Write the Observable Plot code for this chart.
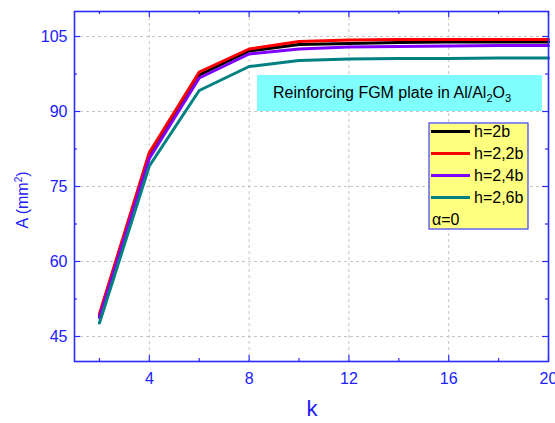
<!DOCTYPE html>
<html>
<head>
<meta charset="utf-8">
<script src="https://cdn.jsdelivr.net/npm/d3@7"></script>
<script src="https://cdn.jsdelivr.net/npm/@observablehq/plot@0.6"></script>
<style>
html,body{margin:0;padding:0;background:#fff;}
svg{font-family:"Liberation Sans",Arial,sans-serif;}
</style>
</head>
<body>
<div id="chart"></div>
<script>
const kValues = [2, 4, 6, 8, 10, 12, 14, 16, 18, 20];
const h2b  = [49.1, 81.4, 97.3, 102.1, 103.4, 103.6, 103.8, 103.9, 103.9, 103.9];
const h22b = [49.5, 81.8, 97.9, 102.5, 104.0, 104.3, 104.4, 104.4, 104.4, 104.4];
const h24b = [48.8, 80.6, 96.7, 101.5, 102.5, 102.9, 103.0, 103.1, 103.2, 103.2];
const h26b = [47.7, 79.1, 94.2, 99.0, 100.2, 100.5, 100.6, 100.6, 100.7, 100.7];
const seriesNames = ["h=2b", "h=2,2b", "h=2,4b", "h=2,6b"];
const seriesColors = ["#000000", "#ff0000", "#8000ff", "#008080"];
const xMajor = [4, 8, 12, 16, 20];
const xMinor = [2, 6, 10, 14, 18];
const yMajor = [45, 60, 75, 90, 105];
const yMinor = [52.5, 67.5, 82.5, 97.5];
const xGrid = [4, 8, 12, 16];

const allSeries = [h2b, h22b, h24b, h26b];
const rows = [];
allSeries.forEach((vals, si) => vals.forEach((v, i) => rows.push({k: kValues[i], A: v, s: seriesNames[si]})));

const W = 555, H = 423, mL = 74, mR = 7, mT = 11, mB = 62;
const plotH = H - mT - mB;
const plotW = W - mL - mR;
const blue = "#2b2bff";
const tickBlue = "#2020ff";

const chart = Plot.plot({
  width: W, height: H,
  marginLeft: mL, marginRight: mR, marginTop: mT, marginBottom: mB,
  x: {domain: [1, 20]},
  y: {domain: [40, 110]},
  color: {domain: seriesNames, range: seriesColors},
  marks: [
    Plot.gridX(xGrid, {stroke: "#c4c4c4", strokeOpacity: 1, strokeDasharray: "3,3"}),
    Plot.gridY(yMajor, {stroke: "#c4c4c4", strokeOpacity: 1, strokeDasharray: "3,3"}),
    ...seriesNames.map(n => Plot.line(rows.filter(r => r.s === n), {x: "k", y: "A", stroke: "s", strokeWidth: 3})),
    Plot.tickX(xMajor, {x: d => d, stroke: blue, strokeWidth: 1.2, insetTop: plotH - 6}),
    Plot.tickX(xMinor, {x: d => d, stroke: blue, strokeWidth: 1.2, insetTop: plotH - 3}),
    Plot.tickX(xMajor, {x: d => d, stroke: blue, strokeWidth: 1.2, insetBottom: plotH - 6}),
    Plot.tickX(xMinor, {x: d => d, stroke: blue, strokeWidth: 1.2, insetBottom: plotH - 3}),
    Plot.tickY(yMajor, {y: d => d, stroke: blue, strokeWidth: 1.2, insetRight: plotW - 6}),
    Plot.tickY(yMinor, {y: d => d, stroke: blue, strokeWidth: 1.2, insetRight: plotW - 3}),
    Plot.tickY(yMajor, {y: d => d, stroke: blue, strokeWidth: 1.2, insetLeft: plotW - 6}),
    Plot.tickY(yMinor, {y: d => d, stroke: blue, strokeWidth: 1.2, insetLeft: plotW - 3}),
    Plot.frame({stroke: blue, strokeWidth: 1.6}),
    Plot.axisX(xMajor, {tickSize: 0, tickPadding: 11, fontSize: 16, fill: tickBlue, label: null}),
    Plot.axisY(yMajor, {tickSize: 0, tickPadding: 7, fontSize: 16, fill: tickBlue, label: null})
  ]
});

const svg = d3.select(chart);
svg.attr("font-family", "'Liberation Sans', Arial, sans-serif");

// axis titles
svg.append("text").attr("x", 312).attr("y", 416).attr("text-anchor", "middle")
  .attr("font-size", 22).attr("fill", tickBlue).text("k");
const yt = svg.append("text").attr("transform", "translate(28,200) rotate(-90)")
  .attr("text-anchor", "middle").attr("font-size", 16).attr("fill", tickBlue);
yt.append("tspan").text("A (mm");
yt.append("tspan").attr("dy", -6).attr("font-size", 10).text("2");
yt.append("tspan").attr("dy", 6).text(")");

// annotation box
svg.append("rect").attr("x", 257).attr("y", 75).attr("width", 285).attr("height", 36).attr("fill", "#80ffff");
const ann = svg.append("text").attr("x", 273).attr("y", 97.5).attr("text-anchor", "start")
  .attr("font-size", 16).attr("fill", "#000");
ann.append("tspan").text("Reinforcing FGM plate in Al/Al");
ann.append("tspan").attr("dy", 4).attr("font-size", 11).text("2");
ann.append("tspan").attr("dy", -4).text("O");
ann.append("tspan").attr("dy", 4).attr("font-size", 11).text("3");

// legend
const lg = svg.append("g").attr("text-anchor", "start");
lg.append("rect").attr("x", 429).attr("y", 123).attr("width", 99).attr("height", 106)
  .attr("fill", "#ffff80").attr("stroke", "#4040ff").attr("stroke-width", 1.2);
seriesNames.forEach((n, i) => {
  const yb = 137 + i * 22;
  lg.append("line").attr("x1", 431).attr("x2", 470).attr("y1", yb - 5.5).attr("y2", yb - 5.5)
    .attr("stroke", seriesColors[i]).attr("stroke-width", 3);
  lg.append("text").attr("x", 474).attr("y", yb).attr("text-anchor", "start")
    .attr("font-size", 16).attr("fill", "#000").text(n);
});
lg.append("text").attr("x", 432).attr("y", 225).attr("text-anchor", "start")
  .attr("font-size", 16).attr("fill", "#000").text("α=0");

document.getElementById("chart").appendChild(chart);
</script>
</body>
</html>
